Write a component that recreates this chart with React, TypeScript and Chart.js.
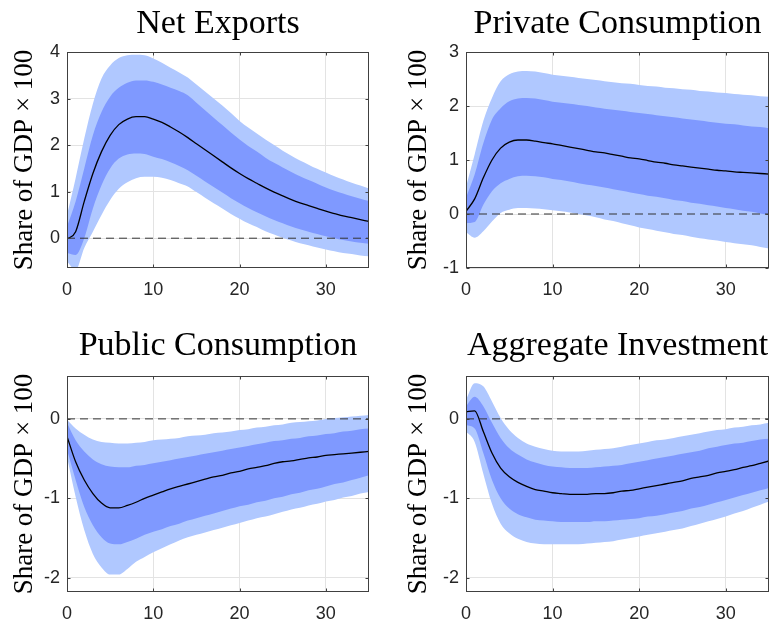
import React, { useEffect, useRef } from "react";
import { Chart, registerables } from "chart.js";

Chart.register(...registerables);

// ---------- data ----------
const horizons = [
  0, 1, 2, 3, 4, 5, 6, 7, 8, 9, 10, 11, 12, 13, 14, 15, 16, 17,
  18, 19, 20, 21, 22, 23, 24, 25, 26, 27, 28, 29, 30, 31, 32, 33, 34, 35,
];
const xTicks = [0, 10, 20, 30];
const xMin = 0;
const xMax = 35;
const yLabel = "Share of GDP × 100";

// Net Exports
const nxMedian = [-0.02, 0.14, 0.79, 1.39, 1.86, 2.21, 2.44, 2.56, 2.61, 2.61, 2.56, 2.49, 2.39, 2.28, 2.16, 2.03, 1.9, 1.77, 1.64, 1.51, 1.39, 1.28, 1.18, 1.08, 0.99, 0.91, 0.83, 0.76, 0.7, 0.64, 0.58, 0.53, 0.48, 0.44, 0.4, 0.36];
const nxInnerHi = [0.25, 0.79, 1.5, 2.21, 2.71, 3.04, 3.23, 3.34, 3.39, 3.39, 3.36, 3.3, 3.23, 3.16, 3.07, 2.91, 2.75, 2.59, 2.43, 2.27, 2.12, 1.98, 1.86, 1.73, 1.62, 1.52, 1.42, 1.33, 1.25, 1.17, 1.09, 1.02, 0.96, 0.9, 0.85, 0.8];
const nxInnerLo = [-0.32, -0.36, 0.0, 0.64, 1.14, 1.5, 1.71, 1.8, 1.82, 1.81, 1.75, 1.7, 1.63, 1.55, 1.46, 1.34, 1.22, 1.1, 0.98, 0.86, 0.75, 0.65, 0.56, 0.47, 0.39, 0.32, 0.25, 0.19, 0.14, 0.09, 0.04, 0.0, -0.04, -0.07, -0.1, -0.12];
const nxOuterHi = [0.5, 1.29, 2.14, 2.89, 3.43, 3.71, 3.87, 3.93, 3.94, 3.93, 3.86, 3.77, 3.66, 3.56, 3.45, 3.3, 3.15, 3.0, 2.85, 2.69, 2.52, 2.38, 2.25, 2.12, 2.0, 1.88, 1.77, 1.67, 1.58, 1.49, 1.41, 1.33, 1.26, 1.19, 1.13, 1.07];
const nxOuterLo = [-0.5, -0.68, -0.21, 0.14, 0.5, 0.82, 1.06, 1.2, 1.29, 1.32, 1.32, 1.3, 1.25, 1.18, 1.11, 0.99, 0.87, 0.75, 0.64, 0.52, 0.42, 0.32, 0.24, 0.15, 0.08, 0.01, -0.05, -0.11, -0.15, -0.2, -0.24, -0.28, -0.32, -0.34, -0.37, -0.39];
const nxYTicks = [0, 1, 2, 3, 4];
const nxYMin = -0.64;
const nxYMax = 4;

// Private Consumption
const pcMedian = [0.05, 0.28, 0.67, 1.0, 1.22, 1.33, 1.37, 1.37, 1.35, 1.32, 1.3, 1.27, 1.24, 1.21, 1.18, 1.15, 1.13, 1.1, 1.07, 1.04, 1.02, 0.99, 0.96, 0.94, 0.91, 0.89, 0.87, 0.85, 0.83, 0.81, 0.8, 0.78, 0.77, 0.76, 0.75, 0.74];
const pcInnerHi = [0.3, 0.73, 1.31, 1.75, 1.96, 2.09, 2.14, 2.15, 2.14, 2.11, 2.08, 2.06, 2.04, 2.02, 2.0, 1.97, 1.95, 1.93, 1.91, 1.89, 1.87, 1.85, 1.83, 1.81, 1.79, 1.77, 1.75, 1.73, 1.71, 1.69, 1.67, 1.66, 1.64, 1.62, 1.61, 1.59];
const pcInnerLo = [-0.17, -0.15, 0.17, 0.42, 0.57, 0.65, 0.7, 0.71, 0.7, 0.68, 0.65, 0.63, 0.6, 0.57, 0.54, 0.52, 0.49, 0.46, 0.43, 0.4, 0.37, 0.34, 0.32, 0.29, 0.26, 0.24, 0.21, 0.19, 0.16, 0.14, 0.11, 0.09, 0.06, 0.04, 0.01, -0.02];
const pcOuterHi = [0.5, 1.1, 1.72, 2.15, 2.46, 2.59, 2.64, 2.65, 2.64, 2.61, 2.58, 2.56, 2.54, 2.52, 2.5, 2.48, 2.46, 2.44, 2.42, 2.41, 2.39, 2.37, 2.36, 2.34, 2.33, 2.31, 2.3, 2.28, 2.27, 2.25, 2.24, 2.22, 2.21, 2.2, 2.18, 2.17];
const pcOuterLo = [-0.34, -0.44, -0.32, -0.14, 0.02, 0.08, 0.11, 0.11, 0.1, 0.09, 0.07, 0.05, 0.03, 0.0, -0.03, -0.06, -0.1, -0.13, -0.17, -0.21, -0.25, -0.28, -0.31, -0.34, -0.37, -0.39, -0.42, -0.45, -0.47, -0.49, -0.52, -0.54, -0.56, -0.58, -0.61, -0.64];
const pcYTicks = [-1, 0, 1, 2, 3];
const pcYMin = -1;
const pcYMax = 3;

// Public Consumption
const gMedian = [-0.22, -0.54, -0.77, -0.94, -1.06, -1.12, -1.12, -1.09, -1.05, -1.0, -0.96, -0.92, -0.88, -0.85, -0.82, -0.79, -0.76, -0.73, -0.71, -0.68, -0.66, -0.63, -0.61, -0.59, -0.56, -0.54, -0.53, -0.51, -0.49, -0.48, -0.46, -0.45, -0.44, -0.43, -0.42, -0.41];
const gInnerHi = [-0.05, -0.27, -0.41, -0.51, -0.57, -0.6, -0.61, -0.61, -0.59, -0.58, -0.56, -0.54, -0.52, -0.5, -0.48, -0.46, -0.44, -0.42, -0.4, -0.38, -0.36, -0.34, -0.32, -0.3, -0.28, -0.27, -0.25, -0.24, -0.22, -0.21, -0.19, -0.18, -0.16, -0.15, -0.13, -0.12];
const gInnerLo = [-0.39, -0.77, -1.11, -1.34, -1.49, -1.57, -1.58, -1.55, -1.51, -1.46, -1.42, -1.39, -1.35, -1.32, -1.28, -1.25, -1.22, -1.19, -1.16, -1.13, -1.1, -1.08, -1.05, -1.03, -1.0, -0.98, -0.95, -0.93, -0.9, -0.88, -0.85, -0.82, -0.8, -0.77, -0.74, -0.71];
const gOuterHi = [-0.01, -0.12, -0.2, -0.26, -0.29, -0.3, -0.31, -0.31, -0.3, -0.29, -0.27, -0.26, -0.25, -0.24, -0.22, -0.21, -0.2, -0.18, -0.17, -0.16, -0.14, -0.13, -0.11, -0.1, -0.08, -0.07, -0.05, -0.04, -0.03, -0.02, 0.0, 0.01, 0.02, 0.03, 0.04, 0.05];
const gOuterLo = [-0.48, -0.98, -1.4, -1.7, -1.87, -1.96, -1.96, -1.89, -1.8, -1.74, -1.68, -1.63, -1.58, -1.53, -1.49, -1.46, -1.43, -1.4, -1.37, -1.34, -1.31, -1.28, -1.25, -1.23, -1.2, -1.17, -1.14, -1.12, -1.09, -1.07, -1.04, -1.02, -0.99, -0.97, -0.94, -0.92];
const gYTicks = [-2, -1, 0];
const gYMin = -2.18;
const gYMax = 0.54;

// Aggregate Investment
const iMedian = [0.09, 0.1, -0.16, -0.43, -0.62, -0.73, -0.8, -0.85, -0.89, -0.91, -0.93, -0.94, -0.95, -0.95, -0.95, -0.94, -0.94, -0.93, -0.91, -0.9, -0.88, -0.86, -0.84, -0.82, -0.8, -0.78, -0.75, -0.73, -0.71, -0.68, -0.66, -0.64, -0.61, -0.59, -0.56, -0.53];
const iInnerHi = [0.16, 0.28, 0.16, -0.05, -0.24, -0.37, -0.45, -0.51, -0.55, -0.58, -0.6, -0.61, -0.62, -0.62, -0.62, -0.61, -0.6, -0.59, -0.58, -0.56, -0.54, -0.52, -0.5, -0.48, -0.46, -0.44, -0.42, -0.4, -0.37, -0.35, -0.33, -0.31, -0.3, -0.28, -0.26, -0.25];
const iInnerLo = [-0.08, -0.12, -0.43, -0.77, -1.0, -1.13, -1.2, -1.24, -1.27, -1.28, -1.29, -1.3, -1.3, -1.3, -1.3, -1.29, -1.29, -1.28, -1.27, -1.26, -1.25, -1.23, -1.22, -1.2, -1.18, -1.16, -1.13, -1.11, -1.08, -1.05, -1.02, -0.99, -0.96, -0.93, -0.9, -0.87];
const iOuterHi = [0.24, 0.45, 0.41, 0.22, 0.01, -0.14, -0.24, -0.31, -0.35, -0.38, -0.4, -0.41, -0.41, -0.41, -0.4, -0.39, -0.38, -0.37, -0.35, -0.33, -0.31, -0.29, -0.27, -0.26, -0.24, -0.22, -0.2, -0.18, -0.16, -0.14, -0.13, -0.11, -0.1, -0.08, -0.07, -0.05];
const iOuterLo = [-0.16, -0.29, -0.69, -1.07, -1.32, -1.44, -1.51, -1.55, -1.57, -1.58, -1.58, -1.58, -1.58, -1.58, -1.57, -1.56, -1.55, -1.54, -1.52, -1.5, -1.48, -1.46, -1.44, -1.42, -1.4, -1.38, -1.35, -1.32, -1.29, -1.26, -1.23, -1.19, -1.16, -1.12, -1.08, -1.04];
const iYTicks = [-2, -1, 0];
const iYMin = -2.18;
const iYMax = 0.54;

// ---------- styles ----------
const LIGHT = "#b0c8ff";
const DARK = "#7f99ff";
const GRID = "#e3e3e3";
const AXIS = "#404040";
const TICK_TEXT = "#262626";
const SERIF = '"Liberation Serif", "Times New Roman", serif';
const SANS = '"Liberation Sans", Arial, Helvetica, sans-serif';

type PanelProps = {
  title: string;
  median: number[];
  innerHi: number[];
  innerLo: number[];
  outerHi: number[];
  outerLo: number[];
  yMin: number;
  yMax: number;
  yTicks: number[];
  left: number;
  top: number;
  width: number;
  height: number;
  yAxisWidth: number;
  padRight: number;
  titleTop: number;
  titleBottom: number;
  xAxisHeight: number;
  yTitlePad: number;
};

const toPts = (vals: number[]) => vals.map((v, i) => ({ x: horizons[i], y: v }));

const framePlugin = {
  id: "matlabFrame",
  afterDatasetsDraw(chart: any, _args: any, opts: any) {
    const { ctx, chartArea, scales } = chart;
    const l = Math.round(chartArea.left) + 0.5;
    const r = Math.round(chartArea.right) - 0.5;
    const t = Math.round(chartArea.top) + 0.5;
    const b = Math.round(chartArea.bottom) - 0.5;
    const tl = 3;
    ctx.save();
    ctx.strokeStyle = AXIS;
    ctx.lineWidth = 1;
    ctx.setLineDash([]);
    ctx.beginPath();
    for (const v of xTicks) {
      const px = Math.round(scales.x.getPixelForValue(v)) + 0.5;
      ctx.moveTo(px, b);
      ctx.lineTo(px, b - tl);
      ctx.moveTo(px, t);
      ctx.lineTo(px, t + tl);
    }
    for (const v of opts.yTicks as number[]) {
      const py = Math.round(scales.y.getPixelForValue(v)) + 0.5;
      ctx.moveTo(l, py);
      ctx.lineTo(l + tl, py);
      ctx.moveTo(r, py);
      ctx.lineTo(r - tl, py);
    }
    ctx.stroke();
    ctx.strokeRect(l, t, r - l, b - t);
    ctx.restore();
  },
};

function Panel(p: PanelProps) {
  const ref = useRef<HTMLCanvasElement | null>(null);
  useEffect(() => {
    if (!ref.current) return;
    const noLine = {
      borderColor: "rgba(0,0,0,0)",
      borderWidth: 0,
      pointRadius: 0,
      cubicInterpolationMode: "monotone",
    };
    const chart = new Chart(ref.current, {
      type: "line",
      data: {
        datasets: [
          {
            label: "zero",
            data: [
              { x: xMin, y: 0 },
              { x: xMax, y: 0 },
            ],
            borderColor: "#333333",
            borderWidth: 1,
            borderDash: [8, 5],
            pointRadius: 0,
            fill: false,
          },
          {
            label: "median",
            data: toPts(p.median),
            borderColor: "#000000",
            borderWidth: 1.3,
            pointRadius: 0,
            cubicInterpolationMode: "monotone",
            fill: false,
          },
          { label: "68% upper", data: toPts(p.innerHi), ...noLine, fill: "+1", backgroundColor: DARK },
          { label: "68% lower", data: toPts(p.innerLo), ...noLine, fill: false },
          { label: "90% upper", data: toPts(p.outerHi), ...noLine, fill: "+1", backgroundColor: LIGHT },
          { label: "90% lower", data: toPts(p.outerLo), ...noLine, fill: false },
        ],
      } as any,
      options: {
        responsive: false,
        animation: false,
        events: [],
        layout: { padding: { left: 0, right: p.padRight, top: 0, bottom: 0 } },
        plugins: {
          legend: { display: false },
          tooltip: { enabled: false },
          title: {
            display: true,
            text: p.title,
            fullSize: false,
            color: "#000000",
            font: { family: SERIF, size: 34, weight: "normal", lineHeight: 1 },
            padding: { top: p.titleTop, bottom: p.titleBottom },
          },
          matlabFrame: { yTicks: p.yTicks },
        } as any,
        scales: {
          x: {
            type: "linear",
            min: xMin,
            max: xMax,
            afterBuildTicks: (s: any) => {
              s.ticks = xTicks.map((v) => ({ value: v }));
            },
            afterFit: (s: any) => {
              s.height = p.xAxisHeight;
            },
            grid: { color: GRID, lineWidth: 1, drawTicks: false },
            border: { display: false },
            ticks: {
              color: TICK_TEXT,
              font: { family: SANS, size: 18 },
              padding: 11,
              maxRotation: 0,
              autoSkip: false,
              callback: (v: any) => String(v),
            },
          },
          y: {
            type: "linear",
            min: p.yMin,
            max: p.yMax,
            afterBuildTicks: (s: any) => {
              s.ticks = p.yTicks.map((v) => ({ value: v }));
            },
            afterFit: (s: any) => {
              s.width = p.yAxisWidth;
            },
            grid: { color: GRID, lineWidth: 1, drawTicks: false },
            border: { display: false },
            ticks: {
              color: TICK_TEXT,
              font: { family: SANS, size: 18 },
              padding: 7,
              autoSkip: false,
              callback: (v: any) => String(v),
            },
            title: {
              display: true,
              text: yLabel,
              color: "#000000",
              font: { family: SERIF, size: 27, weight: "normal", lineHeight: 1 },
              padding: { top: p.yTitlePad, bottom: 0 },
            },
          },
        },
      } as any,
      plugins: [framePlugin],
    });
    return () => chart.destroy();
  }, []);
  return (
    <canvas
      ref={ref}
      width={p.width}
      height={p.height}
      style={{ position: "absolute", left: p.left, top: p.top, width: p.width, height: p.height, display: "block" }}
    />
  );
}

export default function App() {
  return (
    <div style={{ position: "absolute", left: 0, top: 0, width: 774, height: 621, background: "#ffffff" }}>
      <Panel
        title="Net Exports"
        median={nxMedian}
        innerHi={nxInnerHi}
        innerLo={nxInnerLo}
        outerHi={nxOuterHi}
        outerLo={nxOuterLo}
        yMin={nxYMin}
        yMax={nxYMax}
        yTicks={nxYTicks}
        left={0}
        top={0}
        width={387}
        height={310}
        yAxisWidth={67}
        padRight={18}
        titleTop={7}
        titleBottom={11}
        xAxisHeight={42}
        yTitlePad={11.5}
      />
      <Panel
        title="Private Consumption"
        median={pcMedian}
        innerHi={pcInnerHi}
        innerLo={pcInnerLo}
        outerHi={pcOuterHi}
        outerLo={pcOuterLo}
        yMin={pcYMin}
        yMax={pcYMax}
        yTicks={pcYTicks}
        left={387}
        top={0}
        width={387}
        height={310}
        yAxisWidth={79}
        padRight={5}
        titleTop={7}
        titleBottom={11}
        xAxisHeight={42}
        yTitlePad={18.5}
      />
      <Panel
        title="Public Consumption"
        median={gMedian}
        innerHi={gInnerHi}
        innerLo={gInnerLo}
        outerHi={gOuterHi}
        outerLo={gOuterLo}
        yMin={gYMin}
        yMax={gYMax}
        yTicks={gYTicks}
        left={0}
        top={310}
        width={387}
        height={311}
        yAxisWidth={67}
        padRight={18}
        titleTop={19}
        titleBottom={13}
        xAxisHeight={29}
        yTitlePad={11.5}
      />
      <Panel
        title="Aggregate Investment"
        median={iMedian}
        innerHi={iInnerHi}
        innerLo={iInnerLo}
        outerHi={iOuterHi}
        outerLo={iOuterLo}
        yMin={iYMin}
        yMax={iYMax}
        yTicks={iYTicks}
        left={387}
        top={310}
        width={387}
        height={311}
        yAxisWidth={79}
        padRight={5}
        titleTop={19}
        titleBottom={13}
        xAxisHeight={29}
        yTitlePad={18.5}
      />
    </div>
  );
}
